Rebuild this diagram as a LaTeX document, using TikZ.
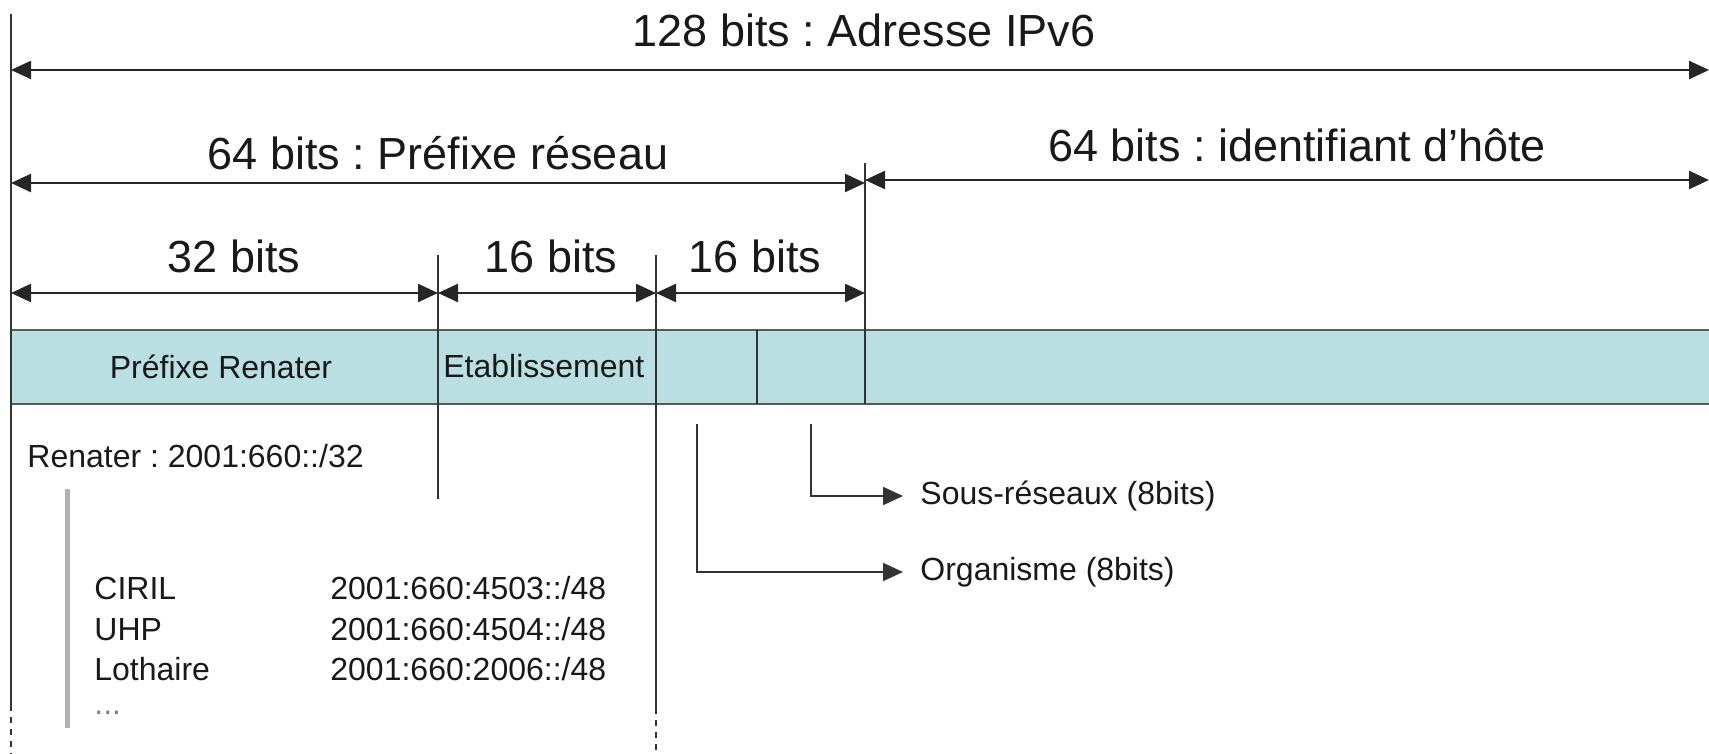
\documentclass[tikz,border=0pt]{standalone}
\usepackage{fontspec}
\setmainfont{Liberation Sans}
\usetikzlibrary{positioning}
\usetikzlibrary{arrows.meta}

\definecolor{barblue}{RGB}{185,223,226}
\frenchspacing

\begin{document}
\begin{tikzpicture}[x=0.5pt,y=-0.5pt,
    dim/.style={{Triangle[length=10pt,width=9pt]}-{Triangle[length=10pt,width=9pt]}, line width=1.2pt, black!85},
    tick/.style={line width=1pt, black!80},
    lead/.style={-{Triangle[length=10pt,width=9pt]}, line width=1pt, black!80},
    big/.style={font=\fontsize{22.5}{26}\selectfont, inner sep=0pt, anchor=base, black!90},
    small/.style={font=\fontsize{16}{19}\selectfont, inner sep=0pt, anchor=base west, black!90}]

    \useasboundingbox (0,0) rectangle (1709,754);

    % Define the coordinates of the borders
    \coordinate (a0) at (11,14);    \coordinate (a1) at (11,705);   \coordinate (a2) at (11,754);
    \coordinate (b0) at (438,255);  \coordinate (b1) at (438,499);
    \coordinate (c0) at (656,255);  \coordinate (c1) at (656,708);  \coordinate (c2) at (656,754);
    \coordinate (e0) at (865,163);  \coordinate (e1) at (865,404);

    % the address bar
    \fill[barblue] (11,330) rectangle (1709,404);
    \draw[line width=1.2pt, black!65] (11,330) -- (1709,330) (11,404) -- (1709,404);
    \draw[tick] (757,330) -- (757,404);

    % vertical borders
    \draw[tick] (a0) -- (a1);
    \draw[tick, dashed] (a1) -- (a2);
    \draw[tick] (b0) -- (b1);
    \draw[tick] (c0) -- (c1);
    \draw[tick, dashed] (c1) -- (c2);
    \draw[tick] (e0) -- (e1);

    % dimension arrows
    \draw[dim] (11,70) -- (1709,70);
    \draw[dim] (11,183) -- (865,183);
    \draw[dim] (865,180) -- (1709,180);
    \foreach \xa/\xb in {11/438, 438/656, 656/865}
        \draw[dim] (\xa,293) -- (\xb,293);

    \node[big] (ipv6) at (864,47) {128 bits : Adresse IPv6};
    \node[big] (prefix) at (438,170) {64 bits : Préfixe réseau};
    \node[big] (host) at (1297,162) {64 bits : identifiant d’hôte};
    \foreach \x/\name/\txt in {234/b32/32 bits, 551/b16a/16 bits, 755/b16b/16 bits}
        \node[big] (\name) at (\x,273) {\txt};

    % fields of the bar
    \node[small, anchor=base] (renater) at (221,379) {Préfixe Renater};
    \node[small] (etab) at (443,378) {Etablissement};

    % sub fields
    \coordinate (org) at (697,424);
    \coordinate (sub) at (811,424);
    \node[small, anchor=west, inner xsep=8.5pt] (sublabel) at (903,496) {Sous-réseaux (8bits)};
    \node[small, anchor=west, inner xsep=8.5pt] (orglabel) at (903,572) {Organisme (8bits)};
    \draw[lead] (sub) |- (sublabel.west);
    \draw[lead] (org) |- (orglabel.west);

    % Renater allocations
    \node[small] (renaddr) at (27,467) {Renater : 2001:660::/32};
    \draw[line width=2.5pt, black!30] (67,489) -- (67,728);
    \foreach \y/\name/\addr in {599/CIRIL/{2001:660:4503::/48}, 640/UHP/{2001:660:4504::/48}, 680/Lothaire/{2001:660:2006::/48}}
    {
        \node[small] (\name) at (94,\y) {\name};
        \node[small] (\name addr) at (330,\y) {\addr};
    }
    \node[small, black!50] (more) at (94,714) {...};

\end{tikzpicture}
\end{document}
